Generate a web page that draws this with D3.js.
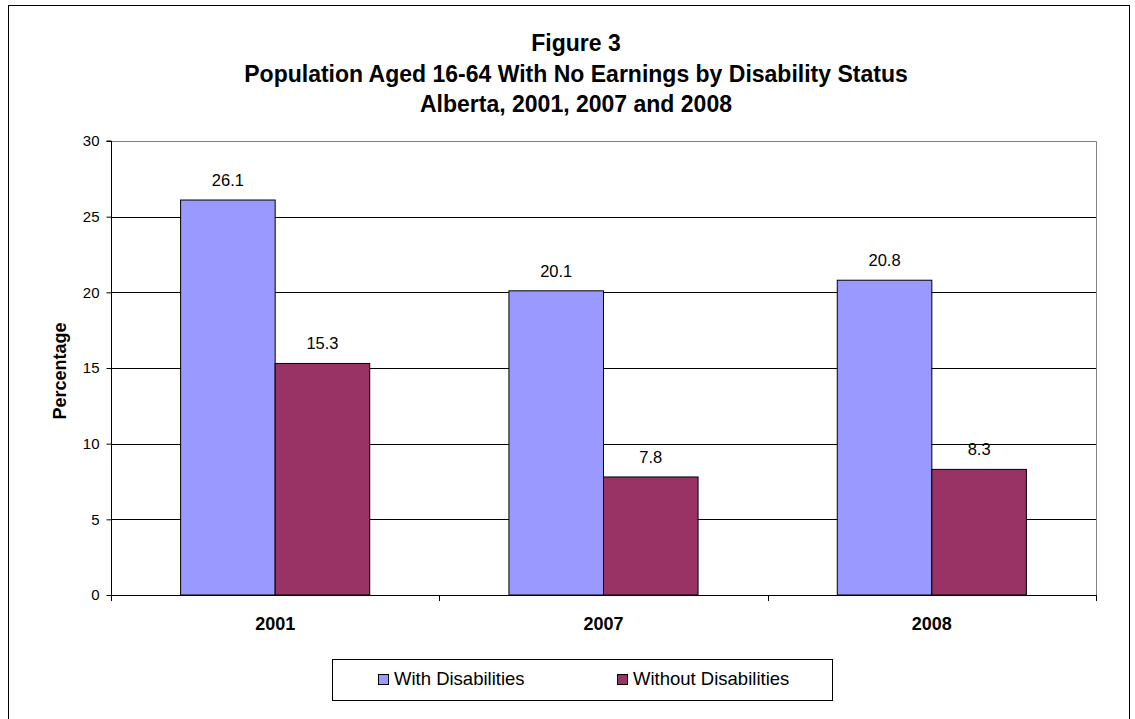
<!DOCTYPE html>
<html><head><meta charset="utf-8">
<script src="https://cdn.jsdelivr.net/npm/d3@7"></script>
<style>body{margin:0;background:#fff;}svg{display:block;font-family:Arial,"Liberation Sans",sans-serif;}</style>
</head><body>
<svg id="c" width="1135" height="719"></svg>
<script>
const categories = ["2001", "2007", "2008"];
const seriesNames = ["With Disabilities", "Without Disabilities"];
const withDis = [26.1, 20.1, 20.8];
const withoutDis = [15.3, 7.8, 8.3];
const yTicks = [0, 5, 10, 15, 20, 25, 30];
const colors = ["#9999FF", "#993366"];
const titleLines = ["Figure 3", "Population Aged 16-64 With No Earnings by Disability Status", "Alberta, 2001, 2007 and 2008"];

const FONT = "Arial, 'Liberation Sans', sans-serif";
const svg = d3.select("#c");
// outer frame
svg.append("rect").attr("x", 8.5).attr("y", 5.5).attr("width", 1121).attr("height", 720)
  .attr("fill", "none").attr("stroke", "#000").attr("stroke-width", 1);

const L = 111, R = 1096, T = 141, B = 595;
const x = d3.scaleBand().domain(categories).range([L, R]);
const y = d3.scaleLinear().domain([0, 30]).range([B, T]);
const bw = x.bandwidth() * 0.288;

// gridlines
svg.append("g").selectAll("line").data(yTicks.filter(d => d > 0 && d < 30)).join("line")
  .attr("x1", L).attr("x2", R).attr("y1", d => Math.round(y(d)) + 0.5).attr("y2", d => Math.round(y(d)) + 0.5)
  .attr("stroke", "#000").attr("stroke-width", 1);
// plot border (top/right gray)
svg.append("path").attr("d", `M${L},${T + 0.5}H${R + 0.5}V${B}`).attr("fill", "none").attr("stroke", "#808080").attr("stroke-width", 1);

// bars
categories.forEach((c, i) => {
  const cx = x(c) + x.bandwidth() / 2;
  [withDis[i], withoutDis[i]].forEach((v, j) => {
    const bx = cx - bw + j * bw;
    svg.append("rect").attr("x", bx).attr("y", y(v)).attr("width", bw).attr("height", y(0) - y(v))
      .attr("fill", colors[j]).attr("stroke", "#000").attr("stroke-width", 1);
    svg.append("text").attr("x", bx + bw / 2).attr("y", y(v) - 14).attr("text-anchor", "middle")
      .attr("font-size", 16.5).attr("fill", "#000").text(v.toFixed(1));
  });
});

// y axis
const yAxis = d3.axisLeft(y).tickValues(yTicks).tickSize(5).tickPadding(7);
const ga = svg.append("g").attr("transform", `translate(${L + 0.5},0)`).call(yAxis);
ga.select(".domain").attr("d", `M-5,${T}H0V${B}`).attr("stroke", "#000");
ga.selectAll("text").attr("font-size", 15).attr("font-family", FONT).attr("fill", "#000");
ga.selectAll(".tick line").attr("stroke", "#000");

// x axis
const xAxis = d3.axisBottom(x).tickSize(0).tickPadding(22);
const gx = svg.append("g").attr("transform", `translate(0,${B + 0.5})`).call(xAxis);
gx.select(".domain").attr("d", `M${L},0H${R}`).attr("stroke", "#000");
gx.selectAll("text").attr("font-size", 18).attr("font-weight", "bold").attr("font-family", FONT).attr("fill", "#000");
// category separator ticks
svg.append("g").selectAll("line").data(categories.concat(["end"])).join("line")
  .attr("x1", (d, i) => Math.round(L + i * x.step()) + 0.5).attr("x2", (d, i) => Math.round(L + i * x.step()) + 0.5)
  .attr("y1", B).attr("y2", B + 6).attr("stroke", "#000");

// y label
svg.append("text").attr("transform", `translate(66,371) rotate(-90)`).attr("text-anchor", "middle")
  .attr("font-size", 18).attr("font-weight", "bold").text("Percentage");

// title
titleLines.forEach((t, i) => {
  svg.append("text").attr("x", 576).attr("y", 51 + i * 30.5).attr("text-anchor", "middle")
    .attr("font-size", 23).attr("font-weight", "bold").text(t);
});

// legend
svg.append("rect").attr("x", 332.5).attr("y", 659.5).attr("width", 500).attr("height", 41)
  .attr("fill", "#fff").attr("stroke", "#000");
const legX = [378, 617];
seriesNames.forEach((n, j) => {
  svg.append("rect").attr("x", legX[j] + 0.5).attr("y", 674.5).attr("width", 10).attr("height", 10)
    .attr("fill", colors[j]).attr("stroke", "#000");
  svg.append("text").attr("x", legX[j] + 16).attr("y", 685).attr("font-size", 18.5).text(n);
});
</script>
</body></html>
